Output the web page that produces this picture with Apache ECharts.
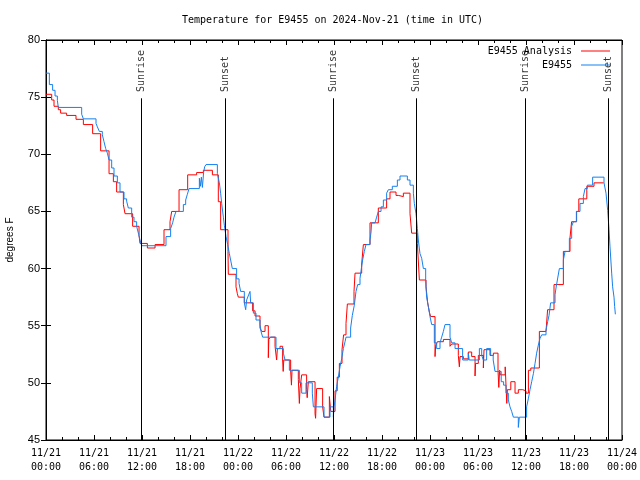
<!DOCTYPE html>
<html><head><meta charset="utf-8">
<script src="https://cdn.jsdelivr.net/npm/echarts@6/dist/echarts.min.js"></script>
<style>html,body{margin:0;padding:0;background:#fff}#c{width:640px;height:480px}</style>
</head><body><div id="c"></div>
<script>
// hours since 2024-11-21 00:00 UTC, temperature in degrees F
const analysisData = [[0,75.25],[0.71,74.75],[1.0,74.2],[1.54,73.9],[1.83,73.6],[2.58,73.4],[3.75,73.06],[4.67,72.6],[5.83,71.8],[6.83,70.3],[7.88,68.3],[8.42,67.6],[8.83,66.7],[9.67,65.6],[9.88,64.8],[10.83,63.7],[11.63,62.9],[11.75,62.2],[12.67,61.8],[13.63,62.1],[14.75,63.4],[15.5,64.1],[15.71,65.0],[16.63,66.9],[17.71,68.2],[18.83,68.4],[19.67,68.6],[20.8,68.2],[21.54,65.85],[21.83,63.4],[22.75,61.5],[22.79,59.5],[23.75,58.4],[23.92,57.8],[24.04,57.5],[24.79,57.0],[25.83,56.3],[26.13,55.85],[26.75,54.8],[26.96,54.5],[27.38,55.0],[27.79,52.2],[27.85,53.8],[28.08,54.0],[28.63,53.2],[28.83,52.0],[28.92,53.0],[29.25,53.2],[29.58,52.0],[29.65,51.0],[29.72,52.0],[30.58,51.1],[30.68,49.8],[30.75,51.1],[31.54,50.3],[31.67,48.2],[31.75,49.5],[31.96,50.7],[32.58,49.4],[32.65,48.7],[32.79,50.1],[33.63,47.3],[33.7,46.9],[33.83,49.5],[34.58,47.9],[34.75,47.0],[35.42,48.8],[35.6,47.5],[36.13,49.3],[36.4,50.5],[36.67,51.7],[37.0,52.9],[37.2,54.2],[37.5,55.2],[37.67,56.9],[38.5,58.0],[38.63,59.6],[39.46,60.4],[39.67,62.1],[40.5,64.0],[41.54,65.3],[42.58,66.1],[43.0,66.7],[43.75,66.4],[44.04,66.3],[44.67,66.6],[45.5,64.8],[45.71,63.1],[46.42,62.2],[46.67,59.0],[47.5,58.4],[47.71,57.0],[47.92,56.2],[48.08,55.8],[48.63,52.3],[48.7,53.2],[48.92,53.6],[49.67,53.8],[50.5,53.2],[50.71,53.4],[51.54,52.4],[51.67,51.4],[51.75,52.3],[52.17,52.1],[52.79,52.7],[53.21,52.3],[53.63,50.6],[53.7,51.7],[54.04,52.4],[54.67,51.3],[54.75,52.9],[55.5,52.4],[55.92,52.6],[56.5,51.1],[56.6,49.6],[56.7,51.1],[56.8,50.7],[57.4,51.4],[57.6,48.2],[57.67,49.4],[58.1,50.1],[58.63,49.1],[59.04,49.4],[59.6,49.3],[60.0,49.1],[60.3,51.1],[60.6,51.3],[61.67,54.5],[62.5,54.4],[62.7,56.4],[63.5,58.6],[64.67,61.5],[65.5,62.7],[65.7,64.1],[66.3,65.0],[66.6,66.1],[67.6,67.2],[68.5,67.5],[69.7,67.5]];

const stationData = [[0,77.1],[0.42,76.1],[0.83,75.6],[1.13,75.1],[1.42,74.7],[1.54,74.1],[4.46,73.5],[4.67,73.1],[6.25,72.7],[6.42,72.4],[6.67,72.0],[7.04,71.7],[7.25,71.1],[7.46,70.5],[7.67,70.1],[7.88,69.5],[8.21,68.8],[8.5,68.1],[8.92,67.5],[9.25,66.7],[9.75,66.1],[10.08,65.9],[10.29,65.3],[10.71,64.5],[11.0,64.1],[11.33,63.7],[11.58,63.0],[11.75,62.5],[11.96,62.0],[15.0,62.8],[15.58,63.5],[15.83,64.0],[16.0,64.5],[16.25,65.0],[17.17,65.6],[17.46,66.0],[17.67,66.5],[17.88,67.0],[19.17,67.9],[19.3,67.2],[19.42,68.0],[19.55,67.1],[19.7,68.4],[19.83,68.9],[20.0,69.1],[21.42,68.3],[21.67,67.5],[21.83,66.6],[21.96,65.7],[22.17,64.5],[22.29,63.8],[22.5,62.8],[22.71,62.1],[22.92,61.3],[23.08,60.75],[23.29,60.0],[23.83,59.1],[24.13,58.7],[24.33,58.0],[24.79,57.0],[24.96,56.4],[25.08,57.25],[25.33,57.7],[25.5,58.0],[25.58,57.0],[25.92,56.1],[26.25,55.5],[26.75,55.1],[26.88,54.5],[27.08,54.0],[28.75,53.0],[29.67,52.6],[29.88,52.0],[30.42,51.1],[31.67,50.0],[31.96,49.1],[32.5,50.0],[33.29,49.1],[33.42,47.9],[34.75,47.0],[35.5,47.9],[35.92,47.0],[36.0,47.9],[36.13,48.5],[36.33,49.7],[36.54,50.5],[36.75,51.4],[36.96,52.1],[37.17,53.0],[37.38,53.6],[37.5,54.0],[38.08,54.8],[38.29,55.9],[38.54,56.8],[38.75,58.0],[38.96,58.6],[39.25,59.15],[39.46,60.2],[39.58,60.75],[39.79,61.5],[40.0,62.1],[40.5,62.5],[40.63,63.2],[40.71,64.0],[41.13,64.1],[41.33,64.5],[41.54,65.0],[41.88,65.4],[42.17,66.0],[42.58,66.6],[42.79,66.9],[43.29,67.2],[43.92,67.75],[44.25,68.1],[45.17,67.75],[45.5,67.3],[45.92,66.6],[46.04,65.7],[46.25,64.8],[46.33,64.25],[46.42,63.5],[46.54,62.5],[46.75,61.3],[46.96,60.9],[47.17,60.0],[47.46,59.0],[47.58,57.5],[47.79,56.7],[48.0,55.8],[48.21,55.1],[48.54,53.5],[48.83,53.0],[49.25,53.5],[49.46,54.0],[49.67,54.5],[49.88,55.1],[50.5,54.0],[50.71,53.5],[51.13,53.0],[52.08,52.0],[52.79,52.6],[52.9,52.0],[54.17,53.0],[54.46,52.4],[54.67,52.0],[55.08,53.0],[55.58,52.4],[55.9,52.0],[56.13,51.0],[56.9,50.1],[57.2,49.8],[57.5,49.1],[57.79,48.5],[58.0,47.9],[58.21,47.5],[58.42,47.0],[59.04,46.1],[59.17,47.0],[60.08,47.9],[60.29,48.6],[60.5,49.4],[60.71,50.1],[60.92,50.8],[61.13,51.7],[61.33,52.6],[61.54,53.3],[61.75,53.9],[61.96,54.2],[62.5,54.6],[62.71,55.35],[62.88,55.9],[63.08,57.0],[63.63,57.7],[63.75,58.3],[63.92,59.0],[64.17,60.0],[64.67,60.75],[64.88,61.5],[65.42,62.65],[65.71,63.7],[65.92,64.1],[66.33,65.0],[66.75,65.7],[67.17,66.3],[67.38,67.0],[67.67,67.3],[68.33,68.0],[69.75,67.5],[70.0,66.6],[70.21,65.1],[70.38,63.4],[70.5,61.9],[70.71,59.6],[70.83,58.4],[71.0,57.5],[71.08,56.7],[71.17,56.0]];

const sunTimes = [11.875, 22.37, 35.875, 46.3, 59.875, 70.32];
const sunNames = ['Sunrise','Sunset','Sunrise','Sunset','Sunrise','Sunset'];
const dayLabels = ['11/21','11/22','11/23','11/24'];
const seriesNames = ['E9455 Analysis','E9455'];
const titleText = 'Temperature for E9455 on 2024-Nov-21 (time in UTC)';

const MONO = 'DejaVu Sans Mono';
const SANS = 'Liberation Sans';
const pad = n => (n < 10 ? '0' : '') + n;
const xFmt = v => dayLabels[Math.floor(v / 24)] + '\n' + pad(Math.round(v % 24)) + ':00';

const chart = echarts.init(document.getElementById('c'), null, {renderer: 'canvas'});
const tickStyle = {show: true, inside: true, length: 5, lineStyle: {color: '#000', width: 1}};
const minorStyle = {show: true, splitNumber: 3, length: 3, lineStyle: {color: '#000', width: 1}};
const axLine = {show: true, lineStyle: {color: '#000', width: 1}};

chart.setOption({
  animation: false,
  backgroundColor: '#fff',
  title: {text: titleText, left: 177, top: 10,
    textStyle: {fontFamily: MONO, fontSize: 10, fontWeight: 'normal', color: '#000'}},
  legend: [
    {data: [seriesNames[0]], right: 25, top: 41, align: 'right', icon: 'rect', itemWidth: 29, itemHeight: 1,
      textStyle: {fontFamily: MONO, fontSize: 10, color: '#000', padding: [0, 4, 0, 0]}},
    {data: [seriesNames[1]], right: 25, top: 55, align: 'right', icon: 'rect', itemWidth: 29, itemHeight: 1,
      textStyle: {fontFamily: MONO, fontSize: 10, color: '#000', padding: [0, 4, 0, 0]}}
  ],
  grid: {left: 46, right: 18, top: 40, bottom: 40, containLabel: false, outerBoundsMode: 'none',
    show: true, borderColor: '#000', borderWidth: 1},
  xAxis: [
    {type: 'value', min: 0, max: 72, interval: 6, position: 'bottom',
      axisLine: axLine, axisTick: tickStyle, minorTick: minorStyle, splitLine: {show: false},
      axisLabel: {formatter: xFmt, fontFamily: MONO, fontSize: 10, color: '#000', lineHeight: 14, margin: 6}},
    {type: 'value', min: 0, max: 72, interval: 6, position: 'top',
      axisLine: axLine, axisTick: tickStyle, minorTick: minorStyle, splitLine: {show: false},
      axisLabel: {show: false}}
  ],
  yAxis: [
    {type: 'value', min: 45, max: 80, interval: 5, position: 'left',
      name: 'degrees F', nameLocation: 'middle', nameGap: 31, nameRotate: 90,
      nameTextStyle: {fontFamily: SANS, fontSize: 10, color: '#000'},
      axisLine: axLine, axisTick: tickStyle, splitLine: {show: false},
      axisLabel: {fontFamily: SANS, fontSize: 11, color: '#000', margin: 6}},
    {type: 'value', min: 45, max: 80, interval: 5, position: 'right',
      axisLine: axLine, axisTick: tickStyle, splitLine: {show: false}, axisLabel: {show: false}}
  ],
  series: [
    {name: seriesNames[0], type: 'line', step: 'end', data: analysisData, showSymbol: false,
      color: '#ff0000', lineStyle: {color: '#ff0000', width: 1}},
    {name: seriesNames[1], type: 'line', step: 'end', data: stationData, showSymbol: false,
      color: '#1580f0', lineStyle: {color: '#1580f0', width: 1}},
    {name: 'sun', type: 'scatter', symbolSize: 1, itemStyle: {color: 'rgba(0,0,0,0)'},
      data: sunTimes.map((t, i) => [t, 75.45, sunNames[i]]),
      label: {show: true, position: 'inside', rotate: 90, align: 'left', verticalAlign: 'middle',
        formatter: p => p.value[2], fontFamily: MONO, fontSize: 10, color: '#000'},
      labelLayout: {hideOverlap: false},
      markLine: {silent: true, symbol: 'none', label: {show: false},
        lineStyle: {color: '#000', width: 1, type: 'solid'},
        data: sunTimes.map(t => [{coord: [t, 74.9]}, {coord: [t, 45]}])}}
  ]
});
</script></body></html>
